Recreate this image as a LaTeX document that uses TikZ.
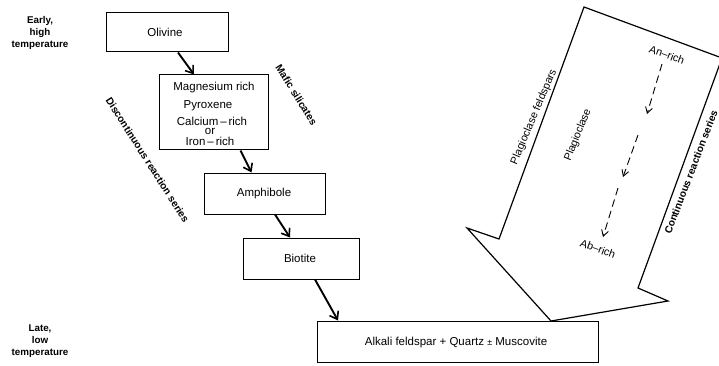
\documentclass[tikz,border=0pt]{standalone}
\usepackage{fontspec}
\setmainfont{Liberation Sans}
\usetikzlibrary{arrows.meta}
\tikzset{
  box/.style={draw, line width=1pt, inner sep=0pt},
  boxtxt/.style={font=\fontsize{11.5}{13}\selectfont, inner sep=0pt},
  side/.style={font=\bfseries\fontsize{9.8}{12}\selectfont, align=center, inner sep=0pt},
  rotb/.style={font=\bfseries\fontsize{10.2}{12}\selectfont, inner sep=0pt},
  rotr/.style={font=\fontsize{10.8}{12}\selectfont, inner sep=0pt},
  thk/.style={line width=1.9pt, -{Straight Barb[length=7pt,width=10pt,line width=1.6pt]}},
  dsh/.style={line width=0.9pt, dash pattern=on 7.5pt off 4.5pt, -{Straight Barb[length=6pt,width=7pt]}},
  bigarrow/.style={line width=1.2pt, line join=miter}
}
\begin{document}
\begin{tikzpicture}[x=1pt,y=-1pt]
\useasboundingbox (0,0) rectangle (719,366);
% corner labels
\node[side] (early) at (40,33) {Early,\\high\\temperature};
\node[side] (late) at (40,341) {Late,\\low\\temperature};
% boxes
\node[box, minimum width=122pt, minimum height=39pt] (oli) at (167,32.5) {};
\node[boxtxt] (olit) at (165,32.5) {Olivine};
\node[box, minimum width=109pt, minimum height=75pt] (pyr) at (213.5,112.5) {};
\node[boxtxt] (pyr1) at (214,88) {Magnesium rich};
\node[boxtxt] (pyr2) at (208,106) {Pyroxene};
\node[boxtxt] (pyr3) at (212,121) {Calcium\,--\,rich};
\node[boxtxt] (pyr4) at (210,131.5) {or};
\node[boxtxt] (pyr5) at (210,141) {Iron\,--\,rich};
\node[box, minimum width=121pt, minimum height=41pt] (amp) at (264.5,193.5) {};
\node[boxtxt] (ampt) at (264,194) {Amphibole};
\node[box, minimum width=116pt, minimum height=41pt] (bio) at (301,258.5) {};
\node[boxtxt] (biot) at (300,258) {Biotite};
\node[box, minimum width=281pt, minimum height=41pt] (alk) at (457.5,341.5) {};
\node[boxtxt] (alkt) at (456,343) {Alkali feldspar + Quartz {\fontsize{9}{10}\selectfont\raisebox{0.5pt}{±}} Muscovite};
% discontinuous arrows
\draw[thk] ([xshift=11pt]oli.south) -- ([xshift=-19.5pt]pyr.north);
\draw[thk] ([xshift=27pt]pyr.south) -- ([xshift=-13pt]amp.north);
\draw[thk] ([xshift=10.5pt]amp.south) -- ([xshift=-11pt]bio.north);
\draw[thk] ([xshift=14pt]bio.south) -- ([xshift=-119.5pt]alk.north);
% rotated labels
\node[rotb, rotate=-58] (mafic) at (296.5,95) {Mafic silicates};
\node[rotb, rotate=-57.5] (disc) at (147.5,160) {Discontinuous reaction series};
% big arrow
\draw[bigarrow] (584,7) -- (722,58) -- (638,288) -- (668,301) -- (551,321) -- (467,228) -- (499,239) -- cycle;
\node[rotr, rotate=67] (plf) at (534,117) {Plagioclase feldspars};
\node[rotr, rotate=68] (pla) at (578,135) {Plagioclase};
\node[rotb, rotate=69] (cont) at (691,172) {Continuous reaction series};
\node[rotr, rotate=-20] (an) at (667,55) {An--rich};
\node[rotr, rotate=-20] (ab) at (598,249) {Ab--rich};
\coordinate (d1s) at (662,64);
\coordinate (d1e) at (647,114);
\coordinate (d2s) at (638,135);
\coordinate (d2e) at (623,177);
\coordinate (d3s) at (618,188);
\coordinate (d3e) at (603,237);
\draw[dsh] (d1s) -- (d1e);
\draw[dsh] (d2s) -- (d2e);
\draw[dsh] (d3s) -- (d3e);
\end{tikzpicture}
\end{document}
